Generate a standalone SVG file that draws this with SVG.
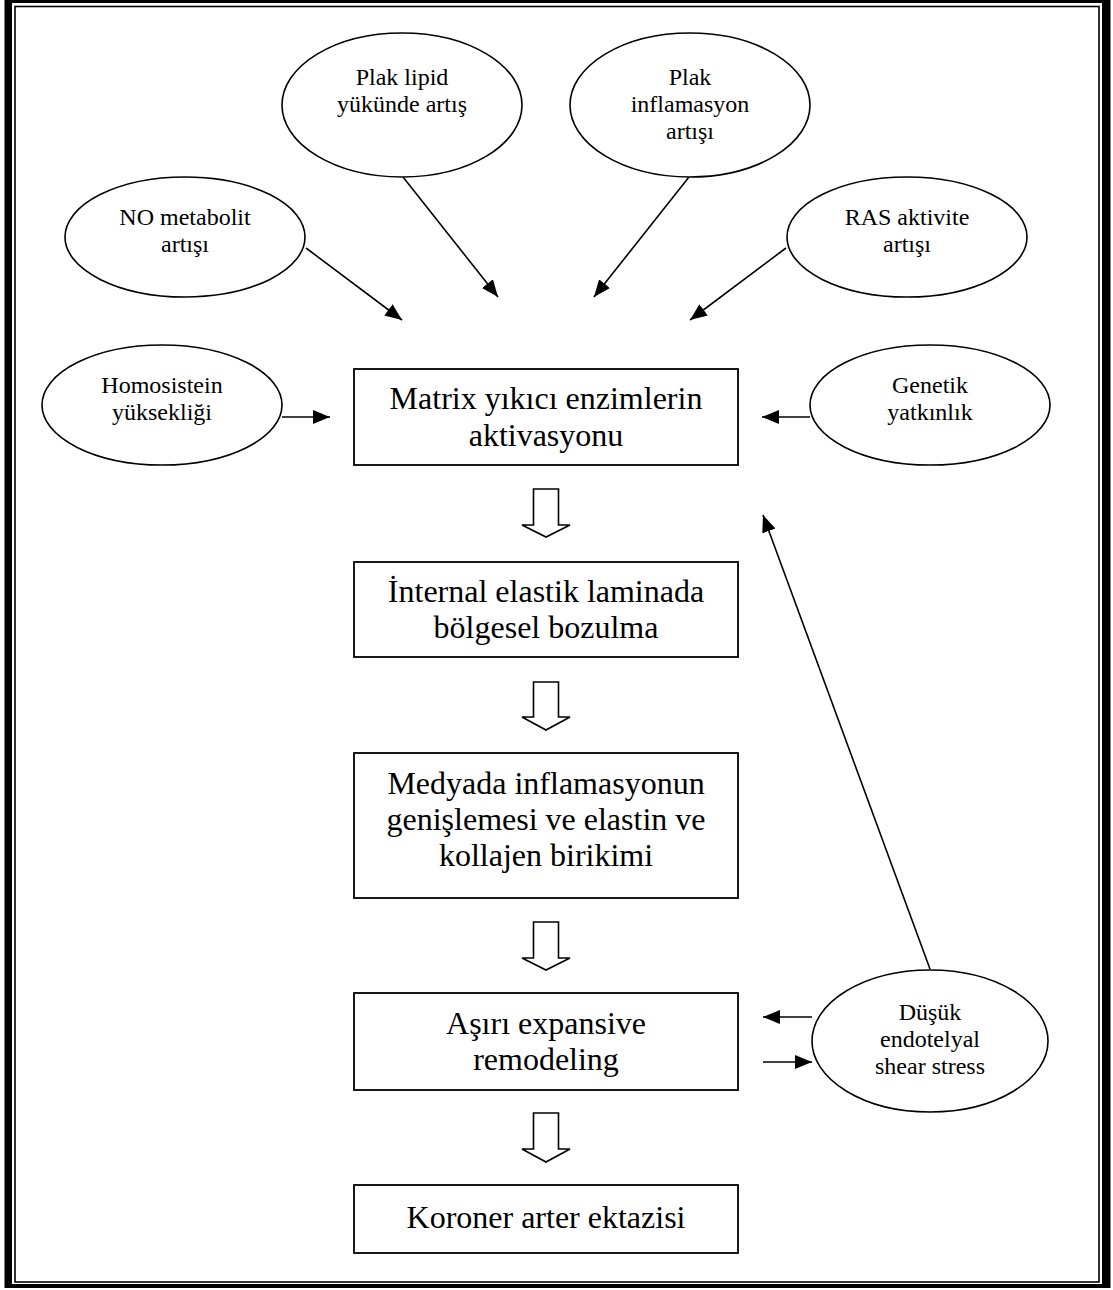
<svg xmlns="http://www.w3.org/2000/svg" width="1113" height="1290" viewBox="0 0 1113 1290">
<style>
  .bg { fill: #ffffff; }
  .box { fill: #ffffff; stroke: #000; stroke-width: 1.8; }
  .ell { fill: #ffffff; stroke: #000; stroke-width: 1.6; }
  .bt { font-family: "Liberation Serif", "Times New Roman", serif; font-size: 32px; fill: #000; text-anchor: middle; }
  .et { font-family: "Liberation Serif", "Times New Roman", serif; font-size: 24px; fill: #000; text-anchor: middle; }
  .con { fill: none; stroke: #000; stroke-width: 1.6; marker-end: url(#ah); }
  .hollow { fill: #ffffff; stroke: #000; stroke-width: 1.6; stroke-linejoin: miter; }
</style>
<defs>
  <marker id="ah" markerUnits="userSpaceOnUse" markerWidth="18" markerHeight="14" refX="17" refY="7" orient="auto">
    <path d="M0,0 L17,7 L0,14 Z" fill="#000"/>
  </marker>
</defs>
<rect class="bg" x="0" y="0" width="1113" height="1290"/>
<g id="frame">
  <path d="M4.5,-2 H1110.5 V1288 H4.5 Z M12,3 V1284 H1102 V3 Z" fill="#000" fill-rule="evenodd"/>
  <rect x="15" y="6.5" width="1084" height="1275.5" fill="none" stroke="#000" stroke-width="1.6"/>
</g>

<g id="connectors">
  <line class="con" x1="306" y1="248" x2="402" y2="320"/>
  <line class="con" x1="403" y1="177" x2="498" y2="297"/>
  <line class="con" x1="689" y1="177" x2="594" y2="297"/>
  <line class="con" x1="786" y1="248" x2="690" y2="320"/>
  <line class="con" x1="282" y1="417" x2="330" y2="417"/>
  <line class="con" x1="810" y1="417" x2="762" y2="417"/>
  <line class="con" x1="930" y1="969" x2="763" y2="515"/>
  <line class="con" x1="812" y1="1017" x2="763" y2="1017"/>
  <line class="con" x1="763" y1="1062" x2="812" y2="1062"/>
  <polygon class="hollow" points="533.5,489 558.5,489 558.5,525 570,525 546,537 522,525 533.5,525"/>
  <polygon class="hollow" points="533.5,682 558.5,682 558.5,717 570,717 546,730 522,717 533.5,717"/>
  <polygon class="hollow" points="533.5,922 558.5,922 558.5,958 570,958 546,970 522,958 533.5,958"/>
  <polygon class="hollow" points="533.5,1113 558.5,1113 558.5,1149 570,1149 546,1162 522,1149 533.5,1149"/>
</g>

<g id="plak-lipid">
  <ellipse class="ell" cx="402" cy="105" rx="120" ry="72"/>
  <text class="et" x="402" y="85">Plak lipid</text>
  <text class="et" x="402" y="112">yükünde artış</text>
</g>
<g id="plak-inflamasyon">
  <ellipse class="ell" cx="690" cy="105" rx="120" ry="72"/>
  <text class="et" x="690" y="85">Plak</text>
  <text class="et" x="690" y="112">inflamasyon</text>
  <text class="et" x="690" y="139">artışı</text>
</g>
<g id="no-metabolit">
  <ellipse class="ell" cx="185" cy="237" rx="120" ry="60"/>
  <text class="et" x="185" y="225">NO metabolit</text>
  <text class="et" x="185" y="252">artışı</text>
</g>
<g id="ras-aktivite">
  <ellipse class="ell" cx="907" cy="237" rx="120" ry="60"/>
  <text class="et" x="907" y="225">RAS aktivite</text>
  <text class="et" x="907" y="252">artışı</text>
</g>
<g id="homosistein">
  <ellipse class="ell" cx="162" cy="405" rx="120" ry="60"/>
  <text class="et" x="162" y="393">Homosistein</text>
  <text class="et" x="162" y="420">yüksekliği</text>
</g>
<g id="genetik">
  <ellipse class="ell" cx="930" cy="405" rx="120" ry="60"/>
  <text class="et" x="930" y="393">Genetik</text>
  <text class="et" x="930" y="420">yatkınlık</text>
</g>
<g id="dusuk">
  <ellipse class="ell" cx="930" cy="1041" rx="118" ry="71"/>
  <text class="et" x="930" y="1020">Düşük</text>
  <text class="et" x="930" y="1047">endotelyal</text>
  <text class="et" x="930" y="1074">shear stress</text>
</g>

<g id="matrix">
  <rect class="box" x="354" y="369" width="384" height="96"/>
  <text class="bt" x="546" y="409">Matrix yıkıcı enzimlerin</text>
  <text class="bt" x="546" y="446">aktivasyonu</text>
</g>
<g id="internal">
  <rect class="box" x="354" y="562" width="384" height="95"/>
  <text class="bt" x="546" y="602">İnternal elastik laminada</text>
  <text class="bt" x="546" y="638">bölgesel bozulma</text>
</g>
<g id="medyada">
  <rect class="box" x="354" y="753" width="384" height="145"/>
  <text class="bt" x="546" y="794">Medyada inflamasyonun</text>
  <text class="bt" x="546" y="830">genişlemesi ve elastin ve</text>
  <text class="bt" x="546" y="866">kollajen birikimi</text>
</g>
<g id="asiri">
  <rect class="box" x="354" y="993" width="384" height="97"/>
  <text class="bt" x="546" y="1034">Aşırı expansive</text>
  <text class="bt" x="546" y="1070">remodeling</text>
</g>
<g id="koroner">
  <rect class="box" x="354" y="1185" width="384" height="68"/>
  <text class="bt" x="546" y="1228">Koroner arter ektazisi</text>
</g>
</svg>
